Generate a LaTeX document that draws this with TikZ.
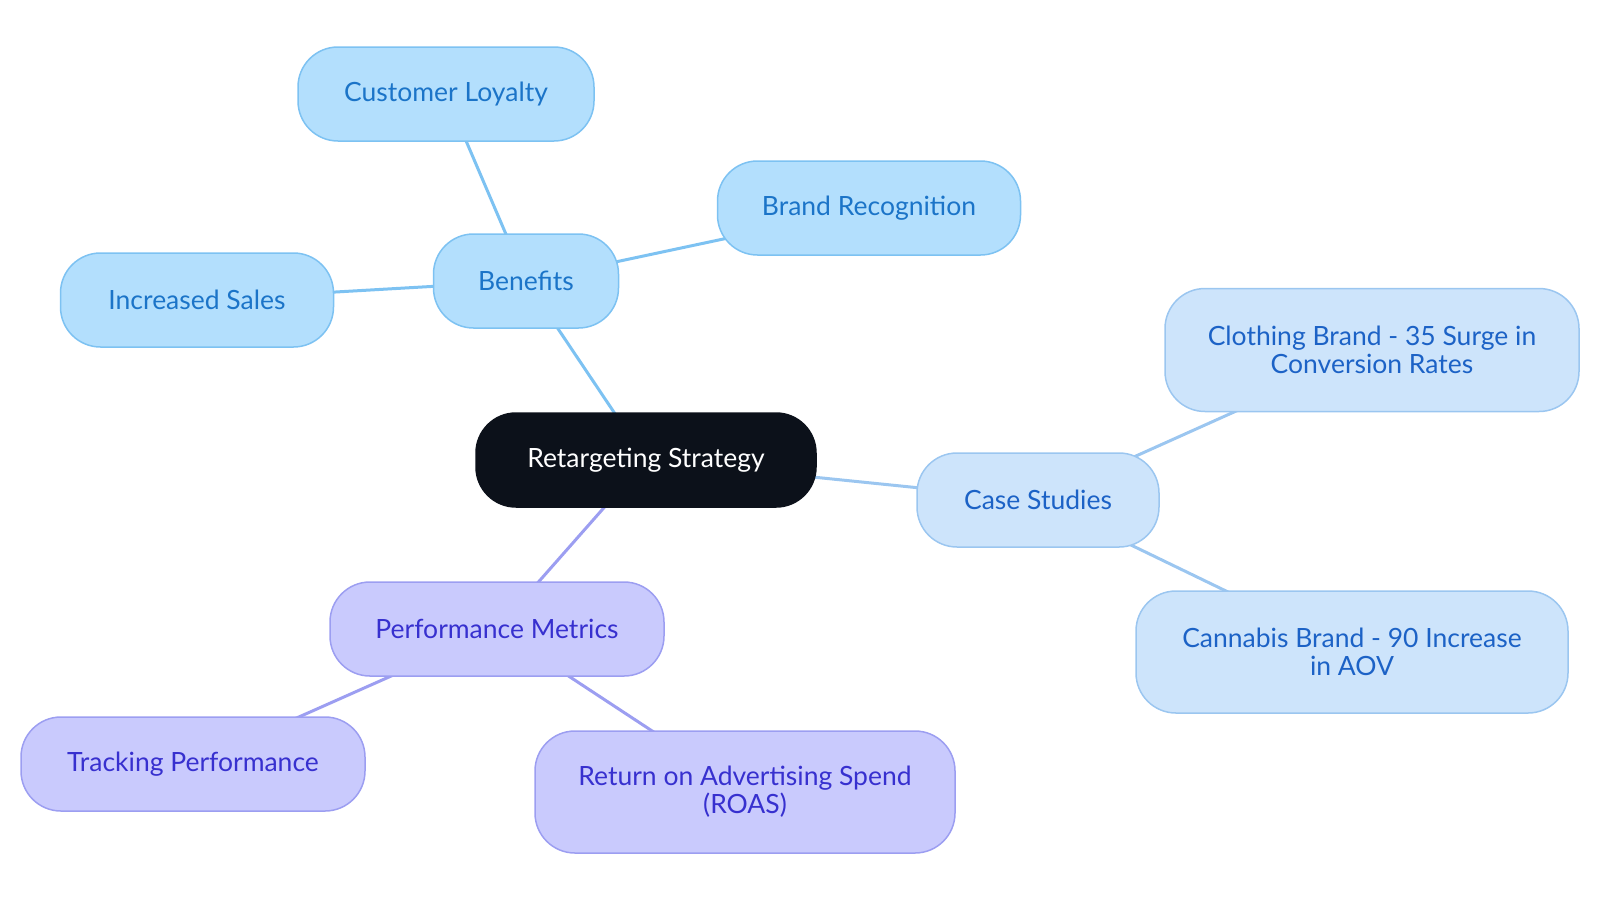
\documentclass[tikz,border=0pt]{standalone}
\usepackage{fontspec}
\setmainfont{Lato}
\usetikzlibrary{backgrounds}
\definecolor{benfill}{HTML}{B3DFFD}
\definecolor{bendraw}{HTML}{7DC2F2}
\definecolor{bentext}{HTML}{1B74C8}
\definecolor{casefill}{HTML}{CDE4FB}
\definecolor{casedraw}{HTML}{9BC6F0}
\definecolor{casetext}{HTML}{1C62C6}
\definecolor{perffill}{HTML}{C9CAFD}
\definecolor{perfdraw}{HTML}{9C9EF1}
\definecolor{perftext}{HTML}{3730CF}
\definecolor{rootfill}{HTML}{0C111A}
\tikzset{
  % Generic pill box
  pill/.style={rectangle, rounded corners=40pt, align=center,
               line width=1.5pt, font=\fontsize{26.5}{28}\selectfont,
               minimum height=94pt, inner sep=0pt},
  rootbox/.style={pill, fill=rootfill, draw=rootfill, text=white},
  benbox/.style={pill, fill=benfill, draw=bendraw, text=bentext},
  casebox/.style={pill, fill=casefill, draw=casedraw, text=casetext,
                  minimum height=#1},
  casebox/.default=94pt,
  perfbox/.style={pill, fill=perffill, draw=perfdraw, text=perftext,
                  minimum height=#1},
  perfbox/.default=94pt,
  % Connectors
  benlink/.style ={line width=3pt, draw=bendraw},
  caselink/.style={line width=3pt, draw=casedraw},
  perflink/.style={line width=3pt, draw=perfdraw},
}
\begin{document}
\begin{tikzpicture}[x=1pt,y=-1pt]
  \useasboundingbox (0,0) rectangle (1600,903);

  %% Root
  \node[rootbox, minimum width=340pt] (root) at (646,460) {Retargeting Strategy};

  %% Benefits branch
  \node[benbox, minimum width=185pt] (ben) at (526,281) {Benefits};
  \node[benbox, minimum width=296pt] (loyal) at (446,94) {Customer Loyalty};
  \node[benbox, minimum width=303pt] (brand) at (869,208) {Brand Recognition};
  \node[benbox, minimum width=273pt] (sales) at (197,300) {Increased Sales};

  %% Case studies branch
  \node[casebox, minimum width=242pt] (cases) at (1038,500) {Case Studies};
  \node[casebox=123pt, minimum width=414pt] (cloth) at (1372,350)
       {Clothing Brand - 35 Surge in\\Conversion Rates};
  \node[casebox=122pt, minimum width=432pt] (canna) at (1352,652)
       {Cannabis Brand - 90 Increase\\in AOV};

  %% Performance branch
  \node[perfbox, minimum width=334pt] (perf) at (497,629) {Performance Metrics};
  \node[perfbox, minimum width=344pt] (track) at (193,764) {Tracking Performance};
  \node[perfbox=122pt, minimum width=420pt] (roas) at (745,792)
       {Return on Advertising Spend\\(ROAS)};

  %% Connectors
  \begin{scope}[on background layer]
    \draw[benlink] (root.center) -- (ben.center);
    \draw[benlink] (ben.center) -- (loyal.center);
    \draw[benlink] (ben.center) -- (brand.center);
    \draw[benlink] (ben.center) -- (sales.center);
    \draw[caselink] (root.center) -- (cases.center);
    \draw[caselink] (cases.center) -- (cloth.center);
    \draw[caselink] (cases.center) -- (canna.center);
    \draw[perflink] (root.center) -- (perf.center);
    \draw[perflink] (perf.center) -- (track.center);
    \draw[perflink] (perf.center) -- (roas.center);
  \end{scope}
\end{tikzpicture}
\end{document}
